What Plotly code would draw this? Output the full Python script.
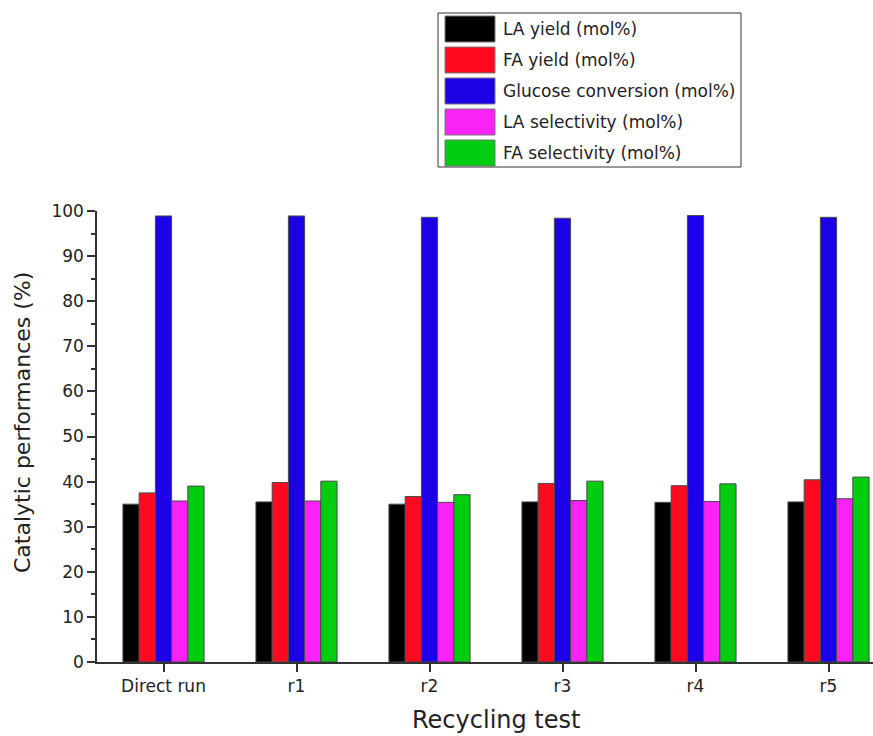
import plotly.graph_objects as go

# Recycling runs and measured catalytic performances (%)
runs = ["Direct run", "r1", "r2", "r3", "r4", "r5"]
la_yield = [35.0, 35.5, 35.0, 35.5, 35.4, 35.5]
fa_yield = [37.5, 39.8, 36.7, 39.6, 39.1, 40.4]
glucose_conversion = [98.9, 98.9, 98.6, 98.4, 99.0, 98.6]
la_selectivity = [35.7, 35.7, 35.4, 35.8, 35.6, 36.2]
fa_selectivity = [39.0, 40.1, 37.1, 40.1, 39.5, 41.0]

series_names = [
    "LA yield (mol%)",
    "FA yield (mol%)",
    "Glucose conversion (mol%)",
    "LA selectivity (mol%)",
    "FA selectivity (mol%)",
]
series_values = [la_yield, fa_yield, glucose_conversion, la_selectivity, fa_selectivity]
colors = ["#000000", "#FF0A1E", "#1C00E6", "#FB22F5", "#00CC10"]

W, H = 873, 736
ML, MR, MT, MB = 97, 0, 211, 74
PW, PH = W - ML - MR, H - MT - MB
FONT = "DejaVu Sans"
TXT = "#222222"

fig = go.Figure()
for name, vals, col in zip(series_names, series_values, colors):
    fig.add_trace(go.Bar(
        x=runs, y=vals, name=name,
        marker=dict(color=col, line=dict(color="#4a4a4a", width=1)),
        showlegend=False,
    ))


def px_x(p):
    return (p - ML) / PW


def px_y(p):
    return (H - MB - p) / PH


# Boxed key with wide colour swatches
shapes = [dict(type="rect", xref="paper", yref="paper",
               x0=px_x(438), x1=px_x(741), y0=px_y(167), y1=px_y(13),
               line=dict(color="#333333", width=1), fillcolor="white", layer="above")]
annotations = []
for i, (name, col) in enumerate(zip(series_names, colors)):
    cy = 29 + i * 31
    shapes.append(dict(type="rect", xref="paper", yref="paper",
                       x0=px_x(445), x1=px_x(495), y0=px_y(cy + 13), y1=px_y(cy - 13),
                       line=dict(color="#777777", width=1), fillcolor=col, layer="above"))
    annotations.append(dict(xref="paper", yref="paper", x=px_x(501), y=px_y(cy),
                            text=name, showarrow=False, xanchor="left", yanchor="middle",
                            font=dict(family=FONT, size=17, color=TXT)))

# Axis titles
annotations.append(dict(xref="paper", yref="paper", x=px_x(22), y=px_y(423),
                        text="Catalytic performances (%)", textangle=-90, showarrow=False,
                        xanchor="center", yanchor="middle",
                        font=dict(family=FONT, size=22, color=TXT)))
annotations.append(dict(xref="paper", yref="paper", x=px_x(496), y=px_y(720),
                        text="Recycling test", showarrow=False,
                        xanchor="center", yanchor="middle",
                        font=dict(family=FONT, size=24, color=TXT)))

fig.update_layout(
    width=W, height=H,
    margin=dict(l=ML, r=MR, t=MT, b=MB, pad=0),
    paper_bgcolor="white", plot_bgcolor="white",
    barmode="group", bargap=0.39, bargroupgap=0,
    font=dict(family=FONT, color=TXT),
    shapes=shapes, annotations=annotations,
    xaxis=dict(
        range=[-0.5, -0.5 + PW / 133.0],
        showline=True, linecolor="#333333", linewidth=1.5,
        ticks="outside", ticklen=8, tickwidth=1.5, tickcolor="#333333",
        tickfont=dict(family=FONT, size=17, color=TXT),
        showgrid=False, zeroline=False,
    ),
    yaxis=dict(
        range=[0, 100], tickmode="linear", tick0=0, dtick=10,
        showline=True, linecolor="#333333", linewidth=1.5,
        ticks="outside", ticklen=8, tickwidth=1.5, tickcolor="#333333",
        minor=dict(ticks="outside", ticklen=4, dtick=5, tickwidth=1.5, tickcolor="#333333"),
        tickfont=dict(family=FONT, size=17, color=TXT),
        showgrid=False, zeroline=False,
    ),
)

fig.write_html("out.html")
